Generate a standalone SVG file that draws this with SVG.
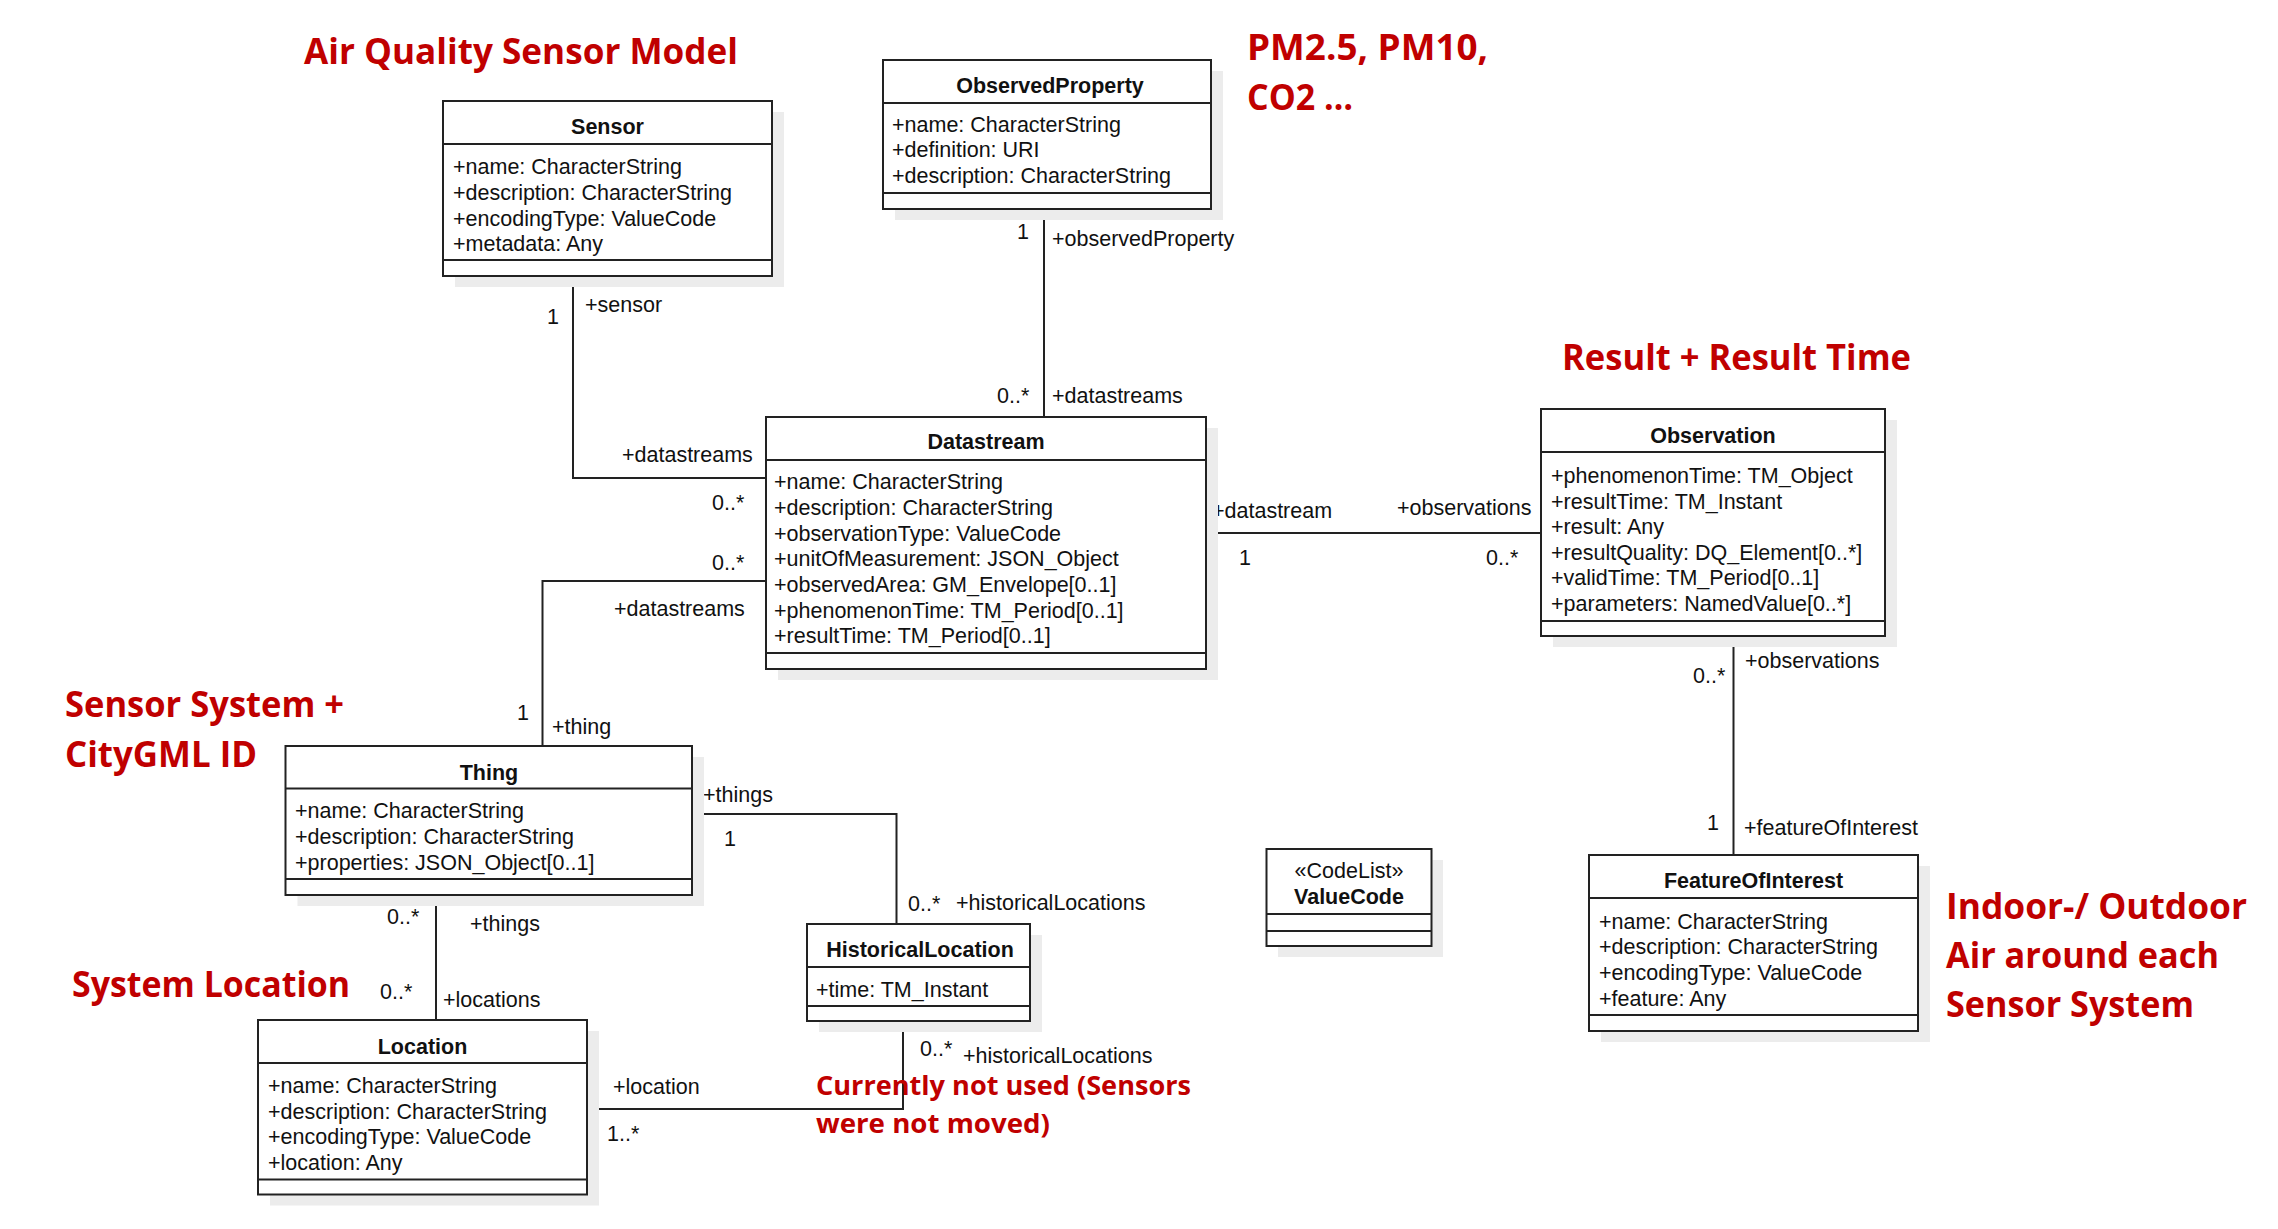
<svg xmlns="http://www.w3.org/2000/svg" width="2278" height="1229" viewBox="0 0 2278 1229">
<style>
.bg{fill:#fff}
.sh{fill:#ececec}
.box{fill:#fff;stroke:#222;stroke-width:2}
.sep{stroke:#222;stroke-width:2}
.t{font-family:"Liberation Sans",Arial,sans-serif;font-size:21.5px;fill:#111}
.ti{font-family:"Liberation Sans",Arial,sans-serif;font-size:21.5px;font-weight:bold;fill:#111;text-anchor:middle}
.st{font-family:"Liberation Sans",Arial,sans-serif;font-size:21.5px;fill:#111;text-anchor:middle}
.red{font-family:"Open Sans","Liberation Sans",sans-serif;font-weight:700;font-size:35px;fill:#C00000}
.red2{font-family:"Open Sans","Liberation Sans",sans-serif;font-weight:700;font-size:27px;fill:#C00000}
.conn{fill:none;stroke:#222;stroke-width:2}
</style>
<rect class="bg" x="0" y="0" width="2278" height="1229"/>

<g id="connectors">
  <path class="conn" d="M573 276 V478 H766"/>
  <path class="conn" d="M1044 209 V417"/>
  <path class="conn" d="M766 581 H542.5 V746"/>
  <path class="conn" d="M1206 533 H1541"/>
  <path class="conn" d="M1733.5 636 V855"/>
  <path class="conn" d="M692 814 H896.5 V924"/>
  <path class="conn" d="M436 895 V1020"/>
  <path class="conn" d="M903 1021 V1109 H587"/>
  <g id="connector-labels">
    <text class="t" x="547" y="324">1</text>
    <text class="t" x="585" y="312">+sensor</text>
    <text class="t" x="622" y="462">+datastreams</text>
    <text class="t" x="712" y="510">0..*</text>
    <text class="t" x="1017" y="239">1</text>
    <text class="t" x="1052" y="246">+observedProperty</text>
    <text class="t" x="997" y="403">0..*</text>
    <text class="t" x="1052" y="403">+datastreams</text>
    <text class="t" x="712" y="570">0..*</text>
    <text class="t" x="614" y="616">+datastreams</text>
    <text class="t" x="517" y="720">1</text>
    <text class="t" x="552" y="734">+thing</text>
    <text class="t" x="1212" y="518">+datastream</text>
    <text class="t" x="1239" y="565">1</text>
    <text class="t" x="1397" y="515">+observations</text>
    <text class="t" x="1486" y="565">0..*</text>
    <text class="t" x="1693" y="683">0..*</text>
    <text class="t" x="1745" y="668">+observations</text>
    <text class="t" x="1707" y="830">1</text>
    <text class="t" x="1744" y="835">+featureOfInterest</text>
    <text class="t" x="703" y="802">+things</text>
    <text class="t" x="724" y="846">1</text>
    <text class="t" x="908" y="911">0..*</text>
    <text class="t" x="956" y="910">+historicalLocations</text>
    <text class="t" x="387" y="924">0..*</text>
    <text class="t" x="470" y="931">+things</text>
    <text class="t" x="380" y="999">0..*</text>
    <text class="t" x="443" y="1007">+locations</text>
    <text class="t" x="613" y="1094">+location</text>
    <text class="t" x="607" y="1141">1..*</text>
    <text class="t" x="920" y="1056">0..*</text>
    <text class="t" x="963" y="1063">+historicalLocations</text>
  </g>
</g>

<g id="sensor">
  <rect class="sh" x="455" y="112" width="329" height="175"/>
  <rect class="box" x="443" y="101" width="329" height="175"/>
  <line class="sep" x1="443" y1="144" x2="772" y2="144"/>
  <line class="sep" x1="443" y1="260" x2="772" y2="260"/>
  <text class="ti" x="607.5" y="134">Sensor</text>
  <text class="t" x="453" y="174">+name: CharacterString</text>
  <text class="t" x="453" y="200">+description: CharacterString</text>
  <text class="t" x="453" y="225.5">+encodingType: ValueCode</text>
  <text class="t" x="453" y="251">+metadata: Any</text>
</g>

<g id="observedproperty">
  <rect class="sh" x="895" y="71" width="328" height="149"/>
  <rect class="box" x="883" y="60" width="328" height="149"/>
  <line class="sep" x1="883" y1="103" x2="1211" y2="103"/>
  <line class="sep" x1="883" y1="193" x2="1211" y2="193"/>
  <text class="ti" x="1050" y="93">ObservedProperty</text>
  <text class="t" x="892" y="131.5">+name: CharacterString</text>
  <text class="t" x="892" y="157">+definition: URI</text>
  <text class="t" x="892" y="182.5">+description: CharacterString</text>
</g>

<g id="datastream">
  <rect class="sh" x="778" y="428" width="440" height="252"/>
  <rect class="box" x="766" y="417" width="440" height="252"/>
  <line class="sep" x1="766" y1="460" x2="1206" y2="460"/>
  <line class="sep" x1="766" y1="653" x2="1206" y2="653"/>
  <text class="ti" x="986" y="449">Datastream</text>
  <text class="t" x="774" y="489">+name: CharacterString</text>
  <text class="t" x="774" y="515">+description: CharacterString</text>
  <text class="t" x="774" y="540.5">+observationType: ValueCode</text>
  <text class="t" x="774" y="566">+unitOfMeasurement: JSON_Object</text>
  <text class="t" x="774" y="592">+observedArea: GM_Envelope[0..1]</text>
  <text class="t" x="774" y="617.5">+phenomenonTime: TM_Period[0..1]</text>
  <text class="t" x="774" y="643">+resultTime: TM_Period[0..1]</text>
</g>

<g id="observation">
  <rect class="sh" x="1553" y="420" width="344" height="227"/>
  <rect class="box" x="1541" y="409" width="344" height="227"/>
  <line class="sep" x1="1541" y1="452" x2="1885" y2="452"/>
  <line class="sep" x1="1541" y1="621" x2="1885" y2="621"/>
  <text class="ti" x="1713" y="443">Observation</text>
  <text class="t" x="1551" y="483">+phenomenonTime: TM_Object</text>
  <text class="t" x="1551" y="508.5">+resultTime: TM_Instant</text>
  <text class="t" x="1551" y="534">+result: Any</text>
  <text class="t" x="1551" y="559.5">+resultQuality: DQ_Element[0..*]</text>
  <text class="t" x="1551" y="585">+validTime: TM_Period[0..1]</text>
  <text class="t" x="1551" y="610.5">+parameters: NamedValue[0..*]</text>
</g>

<g id="featureofinterest">
  <rect class="sh" x="1601" y="866" width="329" height="176"/>
  <rect class="box" x="1589" y="855" width="329" height="176"/>
  <line class="sep" x1="1589" y1="898" x2="1918" y2="898"/>
  <line class="sep" x1="1589" y1="1015" x2="1918" y2="1015"/>
  <text class="ti" x="1753.5" y="888">FeatureOfInterest</text>
  <text class="t" x="1599" y="928.5">+name: CharacterString</text>
  <text class="t" x="1599" y="954">+description: CharacterString</text>
  <text class="t" x="1599" y="980">+encodingType: ValueCode</text>
  <text class="t" x="1599" y="1005.5">+feature: Any</text>
</g>

<g id="valuecode">
  <rect class="sh" x="1278" y="860" width="165" height="97"/>
  <rect class="box" x="1266.5" y="849" width="165" height="97"/>
  <line class="sep" x1="1266.5" y1="914" x2="1431.5" y2="914"/>
  <line class="sep" x1="1266.5" y1="931" x2="1431.5" y2="931"/>
  <text class="st" x="1349" y="878">«CodeList»</text>
  <text class="ti" x="1349" y="904">ValueCode</text>
</g>

<g id="thing">
  <rect class="sh" x="297.5" y="757" width="406.5" height="149"/>
  <rect class="box" x="285.5" y="746" width="406.5" height="149"/>
  <line class="sep" x1="285.5" y1="788.5" x2="692" y2="788.5"/>
  <line class="sep" x1="285.5" y1="879" x2="692" y2="879"/>
  <text class="ti" x="489" y="779.5">Thing</text>
  <text class="t" x="295" y="818">+name: CharacterString</text>
  <text class="t" x="295" y="844">+description: CharacterString</text>
  <text class="t" x="295" y="869.5">+properties: JSON_Object[0..1]</text>
</g>

<g id="historicallocation">
  <rect class="sh" x="819" y="935" width="223" height="97"/>
  <rect class="box" x="807" y="924" width="223" height="97"/>
  <line class="sep" x1="807" y1="967" x2="1030" y2="967"/>
  <line class="sep" x1="807" y1="1006" x2="1030" y2="1006"/>
  <text class="ti" x="920" y="956.5">HistoricalLocation</text>
  <text class="t" x="816" y="997">+time: TM_Instant</text>
</g>

<g id="location">
  <rect class="sh" x="270" y="1031" width="329" height="174.5"/>
  <rect class="box" x="258" y="1020" width="329" height="174.5"/>
  <line class="sep" x1="258" y1="1063" x2="587" y2="1063"/>
  <line class="sep" x1="258" y1="1179.5" x2="587" y2="1179.5"/>
  <text class="ti" x="422.5" y="1053.5">Location</text>
  <text class="t" x="268" y="1093">+name: CharacterString</text>
  <text class="t" x="268" y="1118.5">+description: CharacterString</text>
  <text class="t" x="268" y="1144">+encodingType: ValueCode</text>
  <text class="t" x="268" y="1169.5">+location: Any</text>
</g>

<g id="annotations">
  <text class="red" x="304" y="64" textLength="434" lengthAdjust="spacingAndGlyphs">Air Quality Sensor Model</text>
  <text class="red" x="1247" y="60" textLength="241" lengthAdjust="spacingAndGlyphs">PM2.5, PM10,</text>
  <text class="red" x="1247" y="110" textLength="106" lengthAdjust="spacingAndGlyphs">CO2 …</text>
  <text class="red" x="1562" y="370" textLength="349" lengthAdjust="spacingAndGlyphs">Result + Result Time</text>
  <text class="red" x="65" y="717" textLength="279" lengthAdjust="spacingAndGlyphs">Sensor System +</text>
  <text class="red" x="65" y="767" textLength="192" lengthAdjust="spacingAndGlyphs">CityGML ID</text>
  <text class="red" x="72" y="997" textLength="278" lengthAdjust="spacingAndGlyphs">System Location</text>
  <text class="red" x="1946" y="919" textLength="301" lengthAdjust="spacingAndGlyphs">Indoor-/ Outdoor</text>
  <text class="red" x="1946" y="968" textLength="273" lengthAdjust="spacingAndGlyphs">Air around each</text>
  <text class="red" x="1946" y="1017" textLength="248" lengthAdjust="spacingAndGlyphs">Sensor System</text>
  <text class="red2" x="816" y="1095" textLength="375" lengthAdjust="spacingAndGlyphs">Currently not used (Sensors</text>
  <text class="red2" x="816" y="1133" textLength="234" lengthAdjust="spacingAndGlyphs">were not moved)</text>
</g>
</svg>
